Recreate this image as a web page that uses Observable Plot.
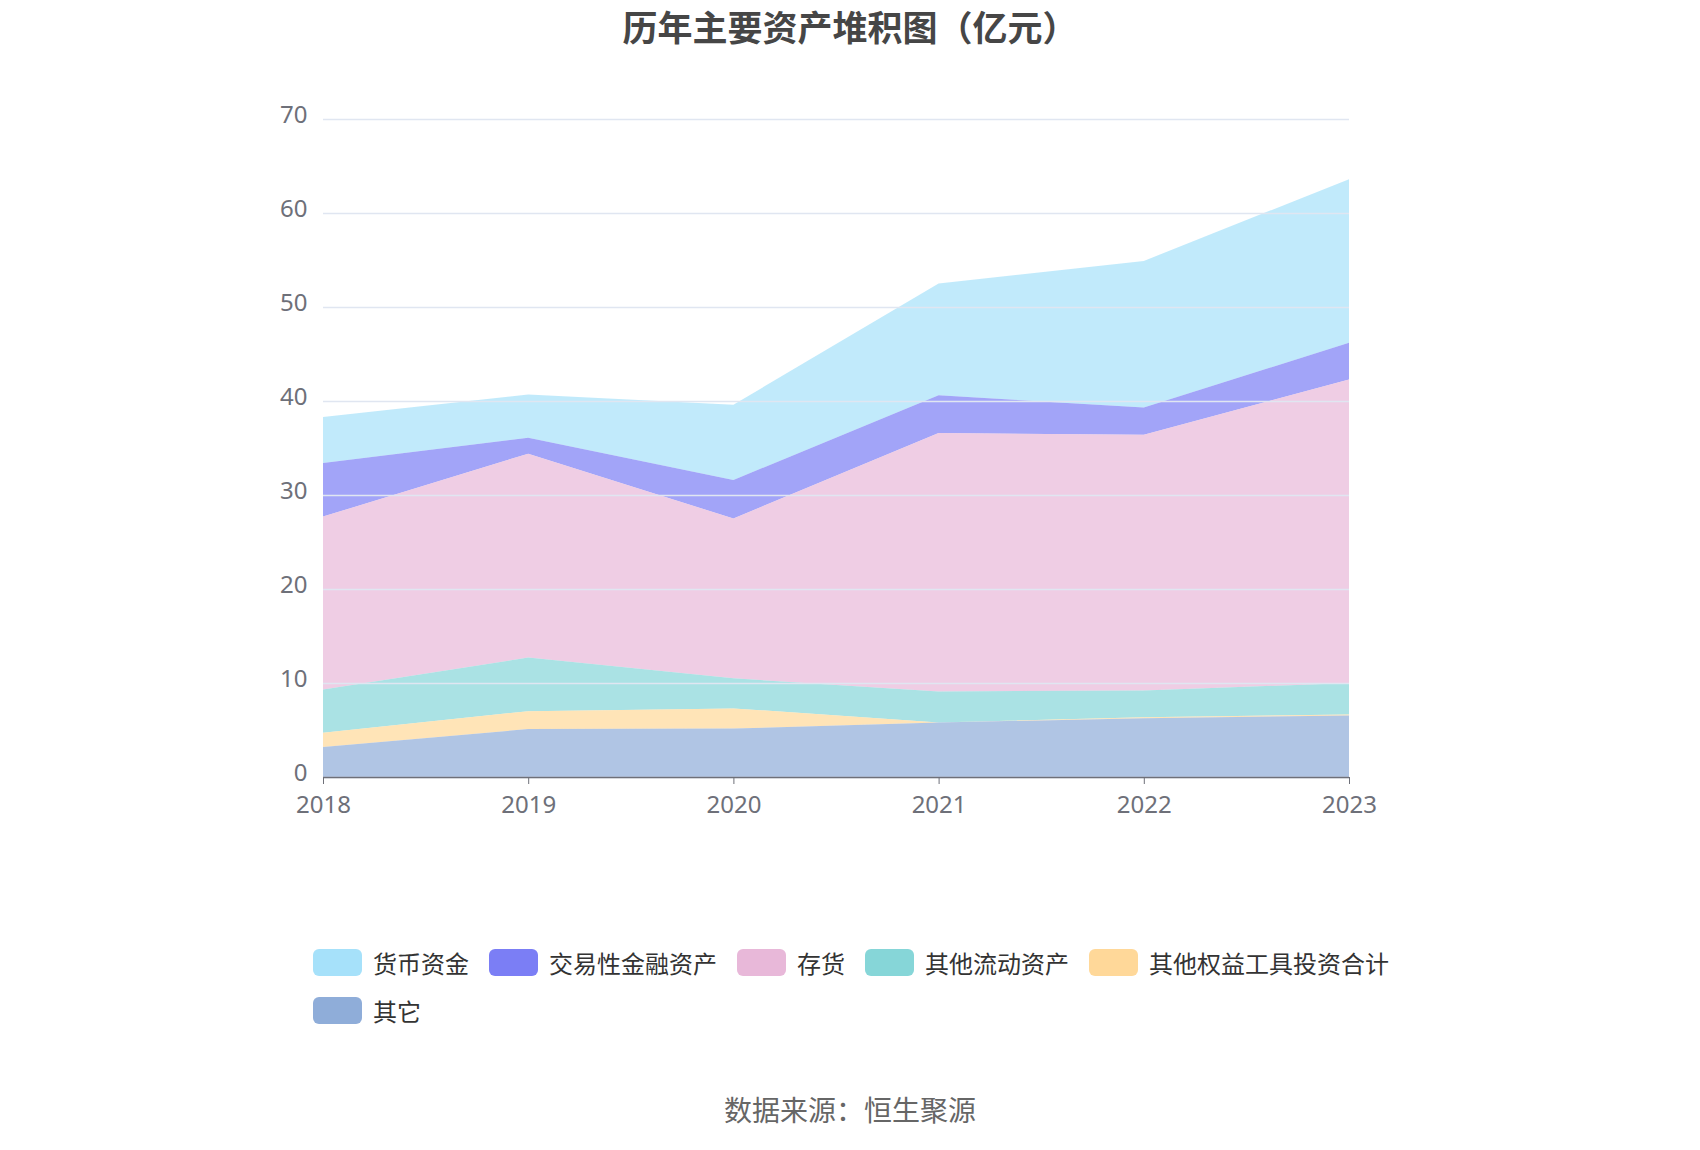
<!DOCTYPE html>
<html>
<head>
<meta charset="utf-8">
<script src="https://cdn.jsdelivr.net/npm/d3@7"></script>
<script src="https://cdn.jsdelivr.net/npm/@observablehq/plot@0.6"></script>
<style>
  html, body { margin: 0; padding: 0; background: #fff; }
  body { font-family: "Noto Sans CJK SC", "Noto Sans", sans-serif; }
  #wrap { position: relative; width: 1700px; height: 1150px; overflow: hidden; }
  #title { position: absolute; top: 0px; left: 0; width: 1700px; text-align: center;
           font-size: 35px; font-weight: bold; color: #464646; }
  #chart { position: absolute; top: 0; left: 0; }
  #legend { position: absolute; left: 313px; top: 947px; width: 1130px;
            display: flex; flex-wrap: wrap; row-gap: 18px; column-gap: 20px; }
  .item { display: flex; align-items: center; font-size: 24px; color: #333; height: 30px; }
  .sw { width: 49px; height: 27px; border-radius: 6px; margin-right: 11px; }
  #caption { position: absolute; top: 1089px; left: 0; width: 1700px; text-align: center;
             font-size: 28px; color: #666; }
</style>
</head>
<body>
<div id="wrap">
  <div id="chart"></div>
  <div id="title">历年主要资产堆积图（亿元）</div>
  <div id="legend"></div>
  <div id="caption">数据来源：恒生聚源</div>
</div>
<script>
const years = [2018, 2019, 2020, 2021, 2022, 2023];
const seriesNames = ["货币资金", "交易性金融资产", "存货", "其他流动资产", "其他权益工具投资合计", "其它"];
const colors = ["#a6e1fa", "#7b7ef5", "#e8b8d9", "#86d6d8", "#ffd899", "#8fadd9"];
const yTicks = [0, 10, 20, 30, 40, 50, 60, 70];

const cash        = [4.9, 4.6, 8.0, 11.9, 15.6, 17.4];
const trading     = [5.7, 1.7, 4.1, 4.0, 2.9, 3.9];
const inventory   = [18.4, 21.7, 17.0, 27.5, 27.2, 32.3];
const otherCur    = [4.6, 5.7, 3.2, 3.3, 2.85, 3.35];
const equityInv   = [1.5, 1.9, 2.15, 0.0, 0.1, 0.1];
const others      = [3.2, 5.1, 5.15, 5.8, 6.25, 6.55];

const valuesBySeries = [cash, trading, inventory, otherCur, equityInv, others];
const data = [];
seriesNames.forEach((name, i) => {
  years.forEach((y, j) => data.push({year: y, name, value: valuesBySeries[i][j]}));
});
const stackOrder = seriesNames.slice().reverse(); // bottom first

const plot = Plot.plot({
  width: 1700,
  height: 830,
  marginTop: 119,
  marginBottom: 53,
  marginLeft: 323,
  marginRight: 351,
  style: {fontFamily: "'Noto Sans', 'Noto Sans CJK SC', sans-serif", fontSize: "20px", background: "transparent"},
  x: {domain: [2018, 2023], ticks: years, tickFormat: d => String(d)},
  y: {domain: [0, 70], ticks: yTicks},
  color: {domain: seriesNames, range: colors},
  marks: [
    Plot.areaY(data, {x: "year", y: "value", fill: "name", z: "name", order: stackOrder, fillOpacity: 0.7}),
    Plot.gridY(yTicks, {stroke: "#e0e6f1", strokeOpacity: 1, strokeWidth: 1.5}),
    Plot.axisY(yTicks, {tickSize: 0, tickPadding: 16, fill: "#6e7079", fontSize: 24, label: null, dy: -4}),
    Plot.ruleY([0], {stroke: "#6e7079", strokeWidth: 1.5}),
    Plot.axisX(years, {tickSize: 7, tickPadding: 11, stroke: "#6e7079", fill: "#6e7079", fontSize: 24, label: null, tickFormat: d => String(d)})
  ]
});
document.getElementById("chart").appendChild(plot);

const legend = document.getElementById("legend");
seriesNames.forEach((name, i) => {
  const it = document.createElement("div");
  it.className = "item";
  const sw = document.createElement("div");
  sw.className = "sw";
  sw.style.background = colors[i];
  const t = document.createElement("span");
  t.textContent = name;
  it.appendChild(sw); it.appendChild(t);
  legend.appendChild(it);
});
</script>
</body>
</html>
